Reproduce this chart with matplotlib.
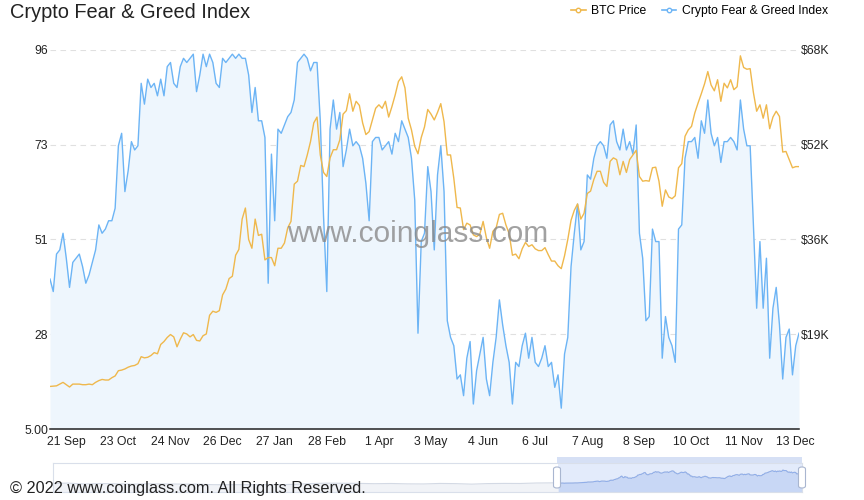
import pandas as pd
import matplotlib
matplotlib.use('Agg')
import matplotlib.pyplot as plt
from matplotlib.lines import Line2D
from matplotlib.patches import Rectangle, FancyBboxPatch

plt.rcParams['font.family'] = ['Liberation Sans', 'DejaVu Sans']

# one sample every 2 days, 2020-09-11 .. 2021-12-15
dates = pd.date_range('2020-09-11', '2021-12-15', freq='2D')

fear_greed = [
    41, 38, 47, 48, 52, 46, 39, 45, 46, 47,
    44, 40, 42, 45, 48, 54, 52, 53, 55, 55,
    58, 73, 76, 62, 67, 74, 72, 73, 88, 83,
    89, 87, 88, 85, 89, 85, 92, 93, 88, 87,
    92, 94, 93, 94, 95, 86, 90, 95, 92, 95,
    93, 88, 87, 94, 93, 94, 95, 94, 95, 94,
    94, 90, 81, 87, 79, 79, 75, 40, 71, 55,
    77, 76, 78, 80, 81, 84, 93, 94, 95, 94,
    91, 93, 93, 79, 56, 38, 77, 84, 77, 81,
    68, 72, 77, 73, 74, 73, 70, 64, 55, 74,
    75, 75, 72, 73, 74, 71, 76, 74, 79, 77,
    75, 70, 60, 28, 50, 52, 68, 62, 48, 66,
    73, 62, 31, 27, 25, 17, 18, 13, 22, 26,
    11, 19, 23, 27, 17, 13, 21, 27, 36, 30,
    25, 21, 11, 21, 20, 25, 28, 22, 27, 21,
    20, 22, 25, 20, 21, 15, 18, 10, 23, 27,
    44, 52, 59, 48, 50, 66, 65, 70, 73, 74,
    73, 70, 78, 79, 74, 72, 77, 72, 74, 71,
    78, 52, 46, 31, 32, 53, 50, 50, 22, 32,
    27, 25, 21, 53, 54, 70, 74, 74, 75, 70,
    79, 76, 84, 76, 73, 75, 69, 74, 74, 75,
    74, 72, 84, 77, 73, 73, 54, 34, 50, 34,
    46, 22, 34, 39, 30, 17, 27, 29, 18, 25, 28,
]

# BTC price in thousands of USD
btc_price_k = [
    10.3, 10.35, 10.4, 10.7, 11.0, 10.6, 10.2, 10.7, 10.7, 10.7,
    10.6, 10.6, 10.7, 10.6, 11.0, 11.3, 11.5, 11.4, 11.4, 11.8,
    12.1, 13.0, 13.1, 13.3, 13.6, 13.8, 13.9, 14.2, 15.4, 15.2,
    15.3, 15.6, 16.1, 15.9, 17.5, 18.0, 18.7, 19.2, 18.8, 17.1,
    18.4, 19.5, 19.3, 18.8, 19.2, 18.2, 18.1, 19.0, 19.3, 22.5,
    23.2, 23.0, 23.3, 26.0, 27.0, 28.8, 29.2, 32.8, 33.8, 39.0,
    40.9, 35.5, 34.0, 39.0, 36.2, 36.4, 32.0, 32.4, 32.4, 31.0,
    34.0, 34.0, 34.9, 37.5, 38.6, 45.0, 45.5, 48.2, 48.0, 50.0,
    52.3, 55.5, 56.5, 50.0, 47.0, 46.3, 49.5, 50.9, 50.9, 52.6,
    57.0, 57.6, 60.5, 57.5, 59.2, 58.5, 55.5, 53.5, 54.0, 56.0,
    58.0, 58.6, 58.0, 59.2, 56.5, 58.3, 60.3, 62.6, 63.4, 61.5,
    56.3, 54.3, 51.5, 50.2, 53.0, 54.8, 57.8, 57.0, 56.0, 57.3,
    58.8, 55.7, 50.0, 50.0, 46.0, 41.0, 40.9, 37.2, 38.3, 38.0,
    36.3, 36.0, 36.4, 38.6, 35.8, 34.0, 36.9, 37.5, 39.8, 40.0,
    38.0, 36.5, 32.8, 33.0, 32.2, 33.9, 35.0, 34.3, 34.6, 33.9,
    33.6, 33.6, 34.1, 32.9, 31.8, 31.8, 31.0, 30.5, 32.7, 35.5,
    38.8, 40.5, 41.6, 39.0, 40.0, 43.4, 43.8, 45.8, 47.2, 47.2,
    45.3, 44.6, 48.9, 49.5, 49.2, 46.6, 48.9, 47.0, 49.2, 50.0,
    50.8, 46.3, 45.5, 45.6, 45.5, 47.8, 47.9, 45.5, 41.2, 44.0,
    42.8, 42.5, 43.0, 47.8, 48.5, 53.2, 54.3, 54.9, 57.2, 58.9,
    60.5, 62.2, 64.3, 62.0, 61.0, 62.9, 59.2, 62.3, 61.5, 62.9,
    61.2, 61.7, 67.0, 65.0, 64.7, 64.8, 60.7, 57.5, 58.6, 56.3,
    58.6, 54.5, 56.5, 57.5, 56.6, 50.5, 50.6, 49.2, 47.8, 48.0, 48.0,
]

# monthly BTC history only used for the zoom slider at the bottom
hist_dates = pd.date_range('2018-02-01', '2020-09-01', freq='MS')
hist_btc_k = [
    9.2, 10.9, 6.9, 9.1, 7.5, 6.4, 7.7, 7.0, 6.6, 6.3, 4.0,
    3.8, 3.5, 3.8, 4.1, 5.4, 8.6, 10.6, 10.1, 9.6, 8.3, 9.2, 7.6,
    7.2, 9.4, 8.6, 6.4, 8.8, 9.5, 9.2, 11.3, 11.9,
]

xtick_dates = pd.date_range('2020-09-21', periods=15, freq='32D')
xtick_labels = [f"{d.day} {d.strftime('%b')}" for d in xtick_dates]
left_ticks = [5, 27.75, 50.5, 73.25, 96]
left_labels = ['5.00', '28', '51', '73', '96']
right_ticks = [19.25, 35.5, 51.75, 68]
right_labels = ['$19K', '$36K', '$52K', '$68K']

blue = '#6cb4f5'
orange = '#efb84c'
W, H = 864, 500

fig = plt.figure(figsize=(8.64, 5.0), dpi=100)
ax = fig.add_axes([50 / W, 1 - 429 / H, 749 / W, 379 / H])

ax.fill_between(dates, 5, fear_greed, color='#eef6fd', lw=0, zorder=1)
ax.plot(dates, fear_greed, color=blue, lw=1.0, zorder=2)
ax.set_ylim(5, 96)
ax.set_xlim(dates[0], dates[-1])
ax.set_yticks(left_ticks)
ax.set_yticklabels(left_labels)
for y in left_ticks[1:]:
    ax.axhline(y, color='#e0e0e0', lw=0.8, ls=(0, (5, 4)), zorder=0)
ax.set_xticks(xtick_dates)
ax.set_xticklabels(xtick_labels)
ax.tick_params(axis='both', length=0, labelsize=8.8, colors='#222222')
ax.tick_params(axis='y', pad=1.5)
ax.tick_params(axis='x', pad=5)
for s in ['top', 'left', 'right']:
    ax.spines[s].set_visible(False)
ax.spines['bottom'].set_color('#222222')
ax.spines['bottom'].set_linewidth(1.1)

ax2 = ax.twinx()
ax2.plot(dates, btc_price_k, color=orange, lw=1.0)
ax2.set_ylim(3, 68)
ax2.set_yticks(right_ticks)
ax2.set_yticklabels(right_labels)
ax2.tick_params(axis='y', length=0, pad=1, labelsize=8.8, colors='#222222')
for s in ax2.spines.values():
    s.set_visible(False)

# watermark
fig.text(418 / W, 1 - 234 / H, 'www.coinglass.com', fontsize=21.5, color='#8a8a8a',
         alpha=0.8, ha='center', va='center', zorder=10)

fig.text(10 / W, 1 - 12 / H, 'Crypto Fear & Greed Index', fontsize=14.4,
         color='#222222', ha='left', va='center')

handles = [
    Line2D([], [], color=orange, lw=1.2, marker='o', ms=3.2, mfc='white', mec=orange),
    Line2D([], [], color=blue, lw=1.2, marker='o', ms=3.2, mfc='white', mec=blue),
]
fig.legend(handles, ['BTC Price', 'Crypto Fear & Greed Index'], loc='center right',
           bbox_to_anchor=(828 / W, 1 - 11 / H), ncol=2, frameon=False, fontsize=8.7,
           handlelength=1.2, handletextpad=0.45, columnspacing=1.3,
           borderaxespad=0, borderpad=0)

# zoom slider
sl = fig.add_axes([53 / W, 1 - 492 / H, 749 / W, 29 / H])
all_dates = hist_dates.append(dates)
all_btc = hist_btc_k + btc_price_k
sl.fill_between(all_dates, -27.5, all_btc, color='#f1f3f7', lw=0)
sl.plot(all_dates, all_btc, color='#d3d9e4', lw=0.8)
sl.axvspan(dates[0], dates[-1], color='#e3ebfb', lw=0, zorder=0.5)
sl.fill_between(dates, -27.5, btc_price_k, color='#c8d7f5', lw=0, zorder=1)
sl.plot(dates, btc_price_k, color='#90aeea', lw=0.8, zorder=2)
sl.set_xlim(all_dates[0], dates[-1])
sl.set_ylim(-27.5, 97.5)
sl.set_xticks([])
sl.set_yticks([])
for s in sl.spines.values():
    s.set_color('#d9dfea')
    s.set_linewidth(0.8)

fig.add_artist(Rectangle((557 / W, 1 - 463 / H), 245 / W, 6 / H,
                         transform=fig.transFigure, color='#d6e0f5', lw=0))
for hx in [557, 802]:
    fig.add_artist(FancyBboxPatch(((hx - 3.5) / W, 1 - 488 / H), 7 / W, 21 / H,
                                  boxstyle='round,pad=0,rounding_size=0.004',
                                  transform=fig.transFigure, fc='white',
                                  ec='#a9b6d0', lw=0.8, zorder=5))

fig.text(10 / W, 1 - 488 / H, '\u00a9 2022 www.coinglass.com. All Rights Reserved.',
         fontsize=11.7, color='#222222', ha='left', va='center', zorder=10)

fig.savefig('out.png', dpi=100)
